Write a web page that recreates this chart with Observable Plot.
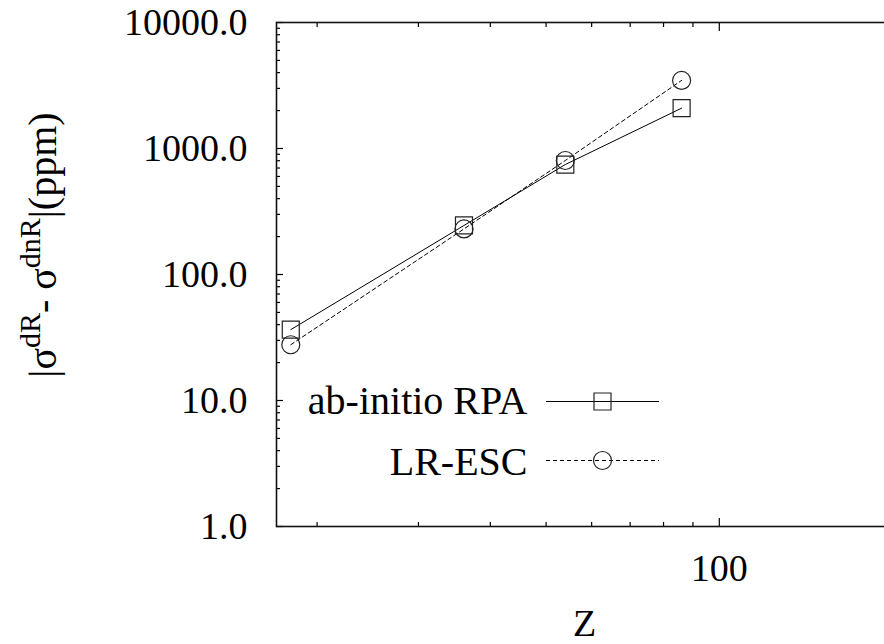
<!DOCTYPE html>
<html><head><meta charset="utf-8">
<script src="https://cdn.jsdelivr.net/npm/d3@7"></script>
<script src="https://cdn.jsdelivr.net/npm/@observablehq/plot@0.6"></script>
<style>
body{margin:0;background:#fff;}
#chart{width:884px;height:644px;overflow:hidden;}
#chart text, #chart tspan{font-family:'Liberation Serif', serif !important;}
</style>
</head><body><div id="chart"></div>
<script>
// ---- data ----
const Z = [18, 36, 54, 86];
const rpa = [36.5, 245, 746, 2090];
const lrEsc = [27.7, 230, 803, 3470];
const seriesNames = ["ab-initio RPA", "LR-ESC"];
const yTickValues = [1, 10, 100, 1000, 10000];
const xTickValues = [100];
const xMinorTickValues = [20, 30, 40, 50, 60, 70, 80, 90];
const xLabel = "Z";
const yLabelParts = ["|σ", "dR", "- σ", "dnR", "|(ppm)"];

const rpaRows = Z.map((z, i) => ({Z: z, v: rpa[i], s: seriesNames[0]}));
const lrRows = Z.map((z, i) => ({Z: z, v: lrEsc[i], s: seriesNames[1]}));
const yMinorTickValues = yTickValues.slice(0, -1).flatMap(d => [2,3,4,5,6,7,8,9].map(k => k * d));

const FONT = "Liberation Serif";
const hline = {draw(ctx) { ctx.moveTo(-56.5, 0); ctx.lineTo(56.5, 0); }};
const blank = () => "";

const plot = Plot.plot({
  width: 884,
  height: 644,
  marginLeft: 276,
  marginRight: -8,
  marginTop: 22,
  marginBottom: 118,
  style: {fontFamily: FONT, fontSize: "38px"},
  x: {type: "log", domain: [17, 200], label: null},
  y: {type: "log", domain: [1, 10000], label: null},
  marks: [
    Plot.axisY({anchor: "left", ticks: yTickValues, tickSize: 0, tickPadding: 29, tickFormat: d3.format(".1f"), label: null, fontFamily: FONT}),
    Plot.axisX({anchor: "bottom", ticks: xTickValues, tickSize: 0, tickPadding: 28, tickFormat: d3.format("d"), label: null, fontFamily: FONT}),
    Plot.axisY({anchor: "left", ticks: yTickValues, tickSize: -7, tickFormat: blank, label: null, strokeWidth: 1.2}),
    Plot.axisY({anchor: "left", ticks: yMinorTickValues, tickSize: -4, tickFormat: blank, label: null, strokeWidth: 1.2}),
    Plot.axisY({anchor: "right", ticks: yTickValues, tickSize: -7, tickFormat: blank, label: null, strokeWidth: 1.2}),
    Plot.axisY({anchor: "right", ticks: yMinorTickValues, tickSize: -4, tickFormat: blank, label: null, strokeWidth: 1.2}),
    Plot.axisX({anchor: "bottom", ticks: xTickValues, tickSize: -8, tickFormat: blank, label: null, strokeWidth: 1.2}),
    Plot.axisX({anchor: "bottom", ticks: xMinorTickValues, tickSize: -4, tickFormat: blank, label: null, strokeWidth: 1.2}),
    Plot.axisX({anchor: "top", ticks: xTickValues, tickSize: -8, tickFormat: blank, label: null, strokeWidth: 1.2}),
    Plot.axisX({anchor: "top", ticks: xMinorTickValues, tickSize: -4, tickFormat: blank, label: null, strokeWidth: 1.2}),
    Plot.frame({stroke: "#111", strokeWidth: 1.6}),
    Plot.line(rpaRows, {x: "Z", y: "v", stroke: "black", strokeWidth: 1}),
    Plot.line(lrRows, {x: "Z", y: "v", stroke: "black", strokeWidth: 1, strokeDasharray: "4,3"}),
    Plot.dot(rpaRows, {x: "Z", y: "v", symbol: "square", r: 9.6, stroke: "#222", strokeWidth: 1.2, fill: "none"}),
    Plot.dot(lrRows, {x: "Z", y: "v", symbol: "circle", r: 9, stroke: "#222", strokeWidth: 1.2, fill: "none"}),
    Plot.text([seriesNames[0]], {text: d => d, frameAnchor: "top-left", dx: 251, dy: 379, textAnchor: "end", lineAnchor: "middle", fontSize: 40, fontFamily: FONT}),
    Plot.text([seriesNames[1]], {text: d => d, frameAnchor: "top-left", dx: 251, dy: 440, textAnchor: "end", lineAnchor: "middle", fontSize: 40, fontFamily: FONT}),
    Plot.dot([seriesNames[0]], {frameAnchor: "top-left", dx: 326, dy: 379, symbol: hline, stroke: "black", strokeWidth: 1}),
    Plot.dot([seriesNames[1]], {frameAnchor: "top-left", dx: 326, dy: 438, symbol: hline, stroke: "black", strokeWidth: 1, strokeDasharray: "4,3"}),
    Plot.dot([seriesNames[0]], {frameAnchor: "top-left", dx: 326, dy: 379, symbol: "square", r: 9.6, stroke: "#222", strokeWidth: 1.2, fill: "none"}),
    Plot.dot([seriesNames[1]], {frameAnchor: "top-left", dx: 326, dy: 438, symbol: "circle", r: 9, stroke: "#222", strokeWidth: 1.2, fill: "none"}),
    Plot.text([xLabel], {text: d => d, frameAnchor: "bottom", dy: 97, lineAnchor: "middle", fontSize: 38, fontFamily: FONT})
  ]
});

// y axis title with superscripts
const yt = d3.select(plot).append("text")
  .attr("transform", "translate(56,245) rotate(-90)")
  .attr("text-anchor", "middle")
  .attr("fill", "black")
  .style("font-size", "40px");
yLabelParts.forEach((p, i) => {
  const t = yt.append("tspan").text(p);
  if (i % 2 === 1) t.attr("dy", -16).style("font-size", "30px");
  else if (i > 0) t.attr("dy", 16);
});

// make the serif font explicit everywhere, with priority
plot.setAttribute("font-family", FONT);
d3.select(plot).selectAll("g,text,tspan").attr("font-family", FONT);
d3.select(plot).selectAll("text,tspan").style("font-family", "'Liberation Serif', serif", "important");
document.getElementById("chart").appendChild(plot);
</script>
</body></html>
